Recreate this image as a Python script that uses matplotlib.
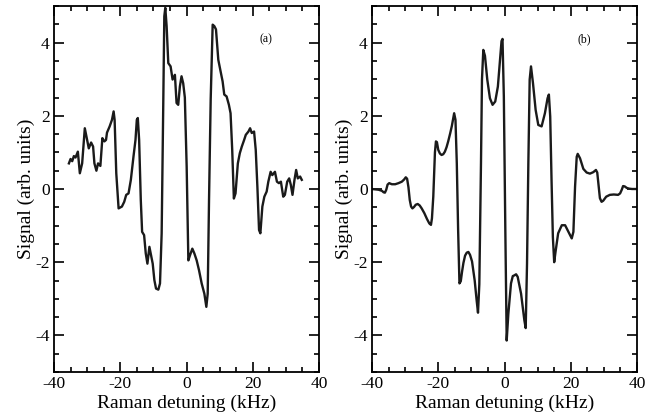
import numpy as np
import matplotlib
matplotlib.use("Agg")
import matplotlib.pyplot as plt
from matplotlib.ticker import MultipleLocator

plt.rcParams['font.family'] = 'serif'
plt.rcParams['font.serif'] = ['Liberation Serif', 'DejaVu Serif']
plt.rcParams['axes.unicode_minus'] = False

# panel (a): measured signal
xa = [-35.5, -35.0, -34.5, -34.0, -33.5, -32.8, -32.2, -31.5, -30.7, -30.0,
      -29.5, -28.8, -28.2, -27.8, -27.2, -26.7, -26.0, -25.4, -24.8, -24.3,
      -24.0, -23.2, -22.5, -22.0, -21.7, -21.2, -20.5, -19.5, -18.8, -18.2,
      -17.5, -16.8, -16.0, -15.4, -15.0, -14.7, -14.3, -13.8, -13.4, -12.8,
      -12.3, -11.8, -11.2, -10.7, -10.2, -9.7, -9.2, -8.5, -8.0, -7.5,
      -7.0, -6.7, -6.4, -6.0, -5.5, -4.8, -4.2, -3.5, -3.0, -2.5,
      -2.0, -1.5, -1.0, -0.5, 0.05, 0.56, 1.06, 1.76, 2.37, 3.07,
      3.78, 4.58, 5.39, 5.99, 6.4, 6.8, 7.3, 7.9, 8.4, 8.9,
      9.6, 10.3, 10.9, 11.4, 12.1, 12.8, 13.3, 13.8, 14.3, 14.8,
      15.5, 16.1, 16.7, 17.4, 17.9, 18.7, 19.2, 19.7, 20.4, 20.9,
      21.4, 21.9, 22.3, 22.9, 23.5, 24.2, 24.7, 25.4, 25.9, 26.7,
      27.3, 27.9, 28.5, 29.2, 29.7, 30.4, 31.0, 31.5, 32.0, 32.6,
      33.1, 33.6, 34.3, 34.8]
ya = [0.70, 0.82, 0.76, 0.90, 0.86, 1.02, 0.43, 0.70, 1.66, 1.34,
      1.11, 1.27, 1.16, 0.70, 0.50, 0.70, 0.63, 1.39, 1.30, 1.34,
      1.54, 1.71, 1.89, 2.12, 1.89, 0.43, -0.53, -0.48, -0.35, -0.16,
      -0.12, 0.25, 0.89, 1.34, 1.89, 1.94, 1.34, -0.30, -1.17, -1.26,
      -1.76, -2.04, -1.58, -1.81, -2.04, -2.49, -2.72, -2.75, -2.58, -1.21,
      2.44, 4.72, 4.95, 4.45, 3.44, 3.35, 2.99, 3.12, 2.35, 2.30,
      2.80, 3.08, 2.89, 2.50, 0.61, -1.95, -1.81, -1.63, -1.76, -1.95,
      -2.22, -2.58, -2.86, -3.22, -2.86, -0.30, 2.44, 4.49, 4.45, 4.36,
      3.53, 3.21, 2.94, 2.58, 2.53, 2.30, 2.07, 1.07, -0.26, -0.12,
      0.70, 0.98, 1.16, 1.34, 1.48, 1.57, 1.66, 1.53, 1.57, 1.07,
      0.06, -1.12, -1.21, -0.48, -0.21, -0.07, 0.20, 0.47, 0.38, 0.47,
      0.20, 0.16, 0.20, -0.21, -0.16, 0.20, 0.29, 0.11, -0.16, 0.25,
      0.52, 0.29, 0.34, 0.25]

# panel (b): calculated signal
xb = [-40.0, -38.0, -37.0, -36.5, -36.1, -35.7, -35.3, -34.8, -34.0, -33.0,
      -32.0, -31.0, -30.3, -29.8, -29.4, -29.0, -28.6, -28.2, -27.8, -27.3,
      -26.8, -26.2, -25.6, -25.0, -24.2, -23.4, -22.7, -22.2, -21.9, -21.5,
      -21.0, -20.7, -20.4, -20.0, -19.5, -19.0, -18.5, -18.0, -17.5, -17.0,
      -16.4, -15.9, -15.5, -15.2, -14.8, -14.4, -14.0, -13.6, -13.2, -12.8,
      -12.4, -11.9, -11.4, -10.9, -10.4, -9.8, -9.0, -8.4, -8.0, -7.6,
      -7.1, -6.8, -6.4, -5.9, -5.2, -4.4, -3.6, -2.8, -2.0, -1.4,
      -0.9, -0.6, -0.2, 0.25, 0.66, 1.16, 1.96, 2.5, 2.97, 3.5,
      3.98, 5.0, 6.0, 6.4, 6.8, 7.2, 7.6, 8.0, 8.6, 9.4,
      10.2, 11.2, 12.2, 13.0, 13.4, 13.8, 14.2, 14.6, 15.0, 15.4,
      16.2, 17.3, 18.3, 19.3, 20.3, 20.8, 21.3, 21.8, 22.1, 22.8,
      23.8, 24.8, 25.8, 26.8, 27.6, 28.0, 28.4, 28.8, 29.3, 29.8,
      30.7, 31.8, 33.0, 34.3, 34.9, 35.4, 35.8, 36.3, 36.9, 37.6,
      38.5, 40.0]
yb = [0.00, -0.02, -0.05, -0.09, -0.10, -0.02, 0.12, 0.16, 0.13, 0.13,
      0.16, 0.20, 0.26, 0.32, 0.28, 0.05, -0.30, -0.48, -0.53, -0.49,
      -0.43, -0.41, -0.45, -0.53, -0.66, -0.82, -0.94, -0.98, -0.80, -0.21,
      1.00, 1.30, 1.28, 1.07, 0.97, 0.93, 0.95, 1.02, 1.14, 1.30,
      1.52, 1.72, 1.93, 2.07, 1.89, 0.70, -1.12, -2.58, -2.52, -2.25,
      -2.02, -1.82, -1.74, -1.72, -1.80, -1.98, -2.50, -3.05, -3.38, -2.60,
      0.70, 2.99, 3.80, 3.64, 2.99, 2.48, 2.30, 2.39, 2.80, 3.49,
      4.04, 4.10, 2.53, -1.12, -4.14, -3.41, -2.58, -2.38, -2.36, -2.33,
      -2.40, -2.86, -3.59, -3.80, -2.04, 0.70, 2.99, 3.35, 2.89, 2.16,
      1.75, 1.71, 2.07, 2.48, 2.58, 1.98, 0.25, -1.31, -2.0, -1.72,
      -1.21, -0.99, -0.99, -1.17, -1.35, -1.17, 0.06, 0.88, 0.96, 0.84,
      0.55, 0.45, 0.42, 0.46, 0.52, 0.45, 0.10, -0.25, -0.35, -0.32,
      -0.21, -0.16, -0.15, -0.16, -0.12, -0.02, 0.08, 0.07, 0.03, 0.01,
      0.00, 0.00]

fig = plt.figure(figsize=(6.45, 4.2), dpi=100)
ax1 = fig.add_axes([54 / 645, 1 - 372 / 420, 265 / 645, 366 / 420])
ax2 = fig.add_axes([372 / 645, 1 - 372 / 420, 265 / 645, 366 / 420])

for ax, x, y, tag in [(ax1, xa, ya, '(a)'), (ax2, xb, yb, '(b)')]:
    ax.plot(x, y, color='#1a1a1a', lw=1.7, solid_joinstyle='round')
    ax.set_xlim(-40, 40)
    ax.set_ylim(-5, 5)
    ax.xaxis.set_major_locator(MultipleLocator(20))
    ax.xaxis.set_minor_locator(MultipleLocator(5))
    ax.yaxis.set_major_locator(MultipleLocator(2))
    ax.yaxis.set_minor_locator(MultipleLocator(0.5))
    ax.tick_params(which='both', direction='in', top=True, right=True,
                   width=1.2, labelsize=12.5, pad=3)
    ax.tick_params(which='major', length=7)
    ax.tick_params(which='minor', length=3.5)
    for s in ax.spines.values():
        s.set_linewidth(1.3)
    ax.set_xlabel('Raman detuning (kHz)', fontsize=14, labelpad=2)
    ax.set_ylabel('Signal (arb. units)', fontsize=14, labelpad=0)
    ax.text(24, 4.1, tag, fontsize=8.5, ha='center', va='center')

fig.savefig('out.png', dpi=100)
